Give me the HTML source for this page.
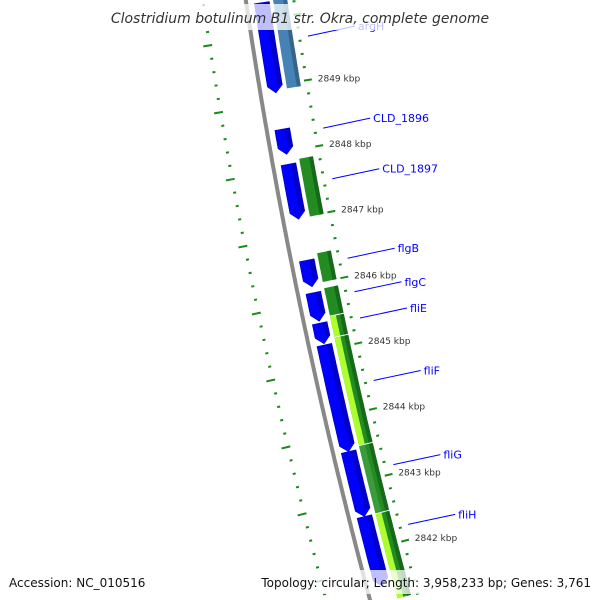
<!DOCTYPE html>
<html><head><meta charset="utf-8"><style>
html,body{margin:0;padding:0;background:#fff;}
svg{display:block;}
</style></head><body>
<svg id="map" width="600" height="600" viewBox="0 0 600 600" xmlns="http://www.w3.org/2000/svg">
<g id="back"></g>
<g id="feat"></g>
<g id="ticks"></g>
<g id="labels"></g>
<rect x="0" y="4" width="600" height="26" fill="#fff" fill-opacity="0.75"/>
<text x="300" y="23" text-anchor="middle" font-family="'DejaVu Sans','Liberation Sans',sans-serif" font-style="italic" font-size="14" fill="#333">Clostridium botulinum B1 str. Okra, complete genome</text>
<rect x="0" y="570" width="600" height="24" fill="#fff" fill-opacity="0.75"/>
<text x="9" y="587" font-family="'DejaVu Sans','Liberation Sans',sans-serif" font-size="12" fill="#111">Accession: NC_010516</text>
<text x="591" y="587" text-anchor="end" font-family="'DejaVu Sans','Liberation Sans',sans-serif" font-size="12" fill="#111">Topology: circular; Length: 3,958,233 bp; Genes: 3,761</text>
</svg>
<script>
// ---- data (kbp positions) ----
const blueStarts = [2850.50, 2850.25, 2848.34, 2847.81, 2846.36, 2845.87, 2845.41, 2845.08, 2843.47, 2842.49];
const blueEnds   = [2850.30, 2848.89, 2847.96, 2846.98, 2845.96, 2845.44, 2845.10, 2843.47, 2842.49, 2841.44];
const outerStarts = [2850.60, 2850.28, 2847.87, 2846.44, 2845.91, 2845.48, 2845.16, 2843.52, 2842.49];
const outerEnds   = [2850.32, 2848.92, 2846.98, 2845.99, 2845.48, 2845.16, 2843.52, 2842.49, 2841.20];
const outerColors = ["#4682b4","#4682b4","#228b22","#228b22","#228b22","#228b22","#228b22","#228b22","#228b22"];
const innerColors = ["", "", "", "", "", "#adff2f","#adff2f","#3c9c3c","#adff2f"];
const geneNames = ["argH","CLD_1896","CLD_1897","flgB","flgC","fliE","fliF","fliG","fliH"];
const geneLabelPos = [2849.65, 2848.25, 2847.48, 2846.27, 2845.76, 2845.36, 2844.41, 2843.13, 2842.22];
const tickLabels = [2849, 2848, 2847, 2846, 2845, 2844, 2843, 2842];

// ---- axis functions ----
function yOf(k){ return 88 + (2849 - k) * 66.4; }
function P(y, d){
  const t = y - 60;
  const g = 255 + 0.1596*t + 0.0000988*t*t;
  const gp = 0.1596 + 2*0.0000988*t;
  const n = Math.sqrt(1 + gp*gp);
  return [g + d/n, y - d*gp/n];
}
const NS = "http://www.w3.org/2000/svg";
function mk(tag, attrs, parent){
  const e = document.createElementNS(NS, tag);
  for (const k in attrs) e.setAttribute(k, attrs[k]);
  parent.appendChild(e);
  return e;
}
function bandPts(y1, y2, d1, d2, arrow){
  const pts = [];
  const yb = arrow ? y2 - 7 : y2;
  const steps = Math.max(2, Math.ceil((yb - y1)/4));
  for (let i=0;i<=steps;i++){ pts.push(P(y1 + (yb-y1)*i/steps, d1)); }
  if (arrow) pts.push(P(y2, (d1+d2)/2));
  for (let i=steps;i>=0;i--){ pts.push(P(y1 + (yb-y1)*i/steps, d2)); }
  return pts.map(p=>p[0].toFixed(1)+","+p[1].toFixed(1)).join(" ");
}
const back = document.getElementById('back');
const feat = document.getElementById('feat');
const ticks = document.getElementById('ticks');
const labels = document.getElementById('labels');

// backbone
{
  const pts = [];
  for (let y=-5;y<=605;y+=5){ const p=P(y,0); pts.push(p[0].toFixed(1)+","+p[1].toFixed(1)); }
  const bb = mk('polyline', {points: pts.join(" "), fill:"none", stroke:"#888", "stroke-width":4}, back);
  
  
}

// blue genes (CDS track)
for (let i=0;i<blueStarts.length;i++){
  const y1 = yOf(blueStarts[i]), y2 = yOf(blueEnds[i]);
  const g = mk('polygon', {points: bandPts(y1, y2, 8, 23, true), fill:"#0000ff", stroke:"#0000b0", "stroke-width":0.6}, feat);
  
  
  const h = mk('polygon', {points: bandPts(y1, y2-7, 18, 23, false), fill:"#0000c8"}, feat);
  
  
}
// outer gene track
for (let i=0;i<outerStarts.length;i++){
  const y1 = yOf(outerStarts[i]), y2 = yOf(outerEnds[i]);
  const g = mk('polygon', {points: bandPts(y1+0.5, y2-0.5, 27, 41, false), fill: outerColors[i]}, feat);
  
  
  const sh = mk('polygon', {points: bandPts(y1+0.5, y2-0.5, 37, 41, false), fill: outerColors[i]==="#4682b4" ? "#36658c" : "#17691a"}, feat);
  
  
  if (innerColors[i]){
    const inn = mk('polygon', {points: bandPts(y1+0.5, y2-0.5, 27, 33, false), fill: innerColors[i]}, feat);
    
    
  }
}

// right scale: small ticks every 0.2 kbp, long ticks at integers
for (let k=2850.6; k>=2841.0; k-=0.2){
  const kr = Math.round(k*10)/10;
  const y = yOf(kr);
  const isMajor = Math.abs(kr - Math.round(kr)) < 0.01;
  const a = P(y, isMajor ? 45 : 46), b = P(y, isMajor ? 53 : 49);
  const t = mk('line', {x1:a[0], y1:a[1], x2:b[0], y2:b[1], stroke:"#1a8a1a", "stroke-width": 2}, ticks);
  
  
}
for (let i=0;i<tickLabels.length;i++){
  const y = yOf(tickLabels[i]);
  const p = P(y, 59);
  const tx = mk('text', {x:p[0], y:p[1]+3, "font-family":"'DejaVu Sans','Liberation Sans',sans-serif", "font-size":9, fill:"#333"}, ticks);
  tx.textContent = tickLabels[i] + " kbp";
  
  
}
// left scale
for (let k=2850.74; k>=2841.0; k-=0.2){
  const kr = Math.round(k*100)/100;
  const y = yOf(kr);
  const isMajor = Math.abs((kr - 0.74) - Math.round(kr - 0.74)) < 0.01;
  const a = P(y, isMajor ? -40 : -41), b = P(y, isMajor ? -49 : -44);
  const t = mk('line', {x1:a[0], y1:a[1], x2:b[0], y2:b[1], stroke:"#1a8a1a", "stroke-width": 2}, ticks);
  
  
}

// gene labels
for (let i=0;i<geneNames.length;i++){
  const y = yOf(geneLabelPos[i]);
  const s = P(y, 56);
  const ex = s[0] + 47, ey = s[1] - 10;
  const ln = mk('line', {x1:s[0], y1:s[1], x2:ex, y2:ey, stroke:"#0000ff", "stroke-width":1}, labels);
  
  
  const tx = mk('text', {x: ex+3, y: ey+4, "font-family":"'DejaVu Sans','Liberation Sans',sans-serif", "font-size":11, fill:"#0000ff"}, labels);
  tx.textContent = geneNames[i];
  
  
}
</script>
</body></html>
